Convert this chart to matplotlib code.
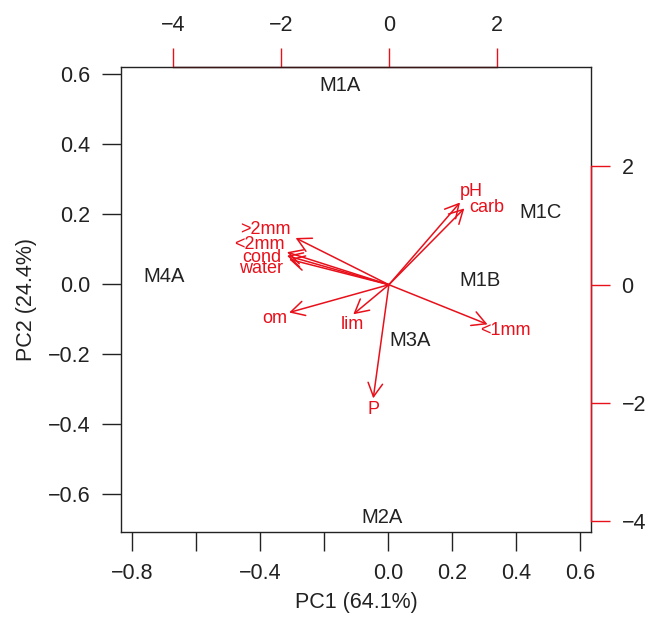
import numpy as np
import matplotlib.pyplot as plt

plt.rcParams['font.family'] = ['Liberation Sans', 'DejaVu Sans']

# site scores (PC1, PC2)
sites = ['M1A', 'M1B', 'M1C', 'M2A', 'M3A', 'M4A']
pc1 = [-0.149, 0.288, 0.475, -0.018, 0.070, -0.701]
pc2 = [0.567, 0.009, 0.205, -0.667, -0.162, 0.023]

# variable loadings (arrow tips) and label positions
variables = ['pH', 'carb', '<1mm', 'lim', 'P', '>2mm', '<2mm', 'cond', 'water', 'om']
load1 = [1.32, 1.40, 1.83, -0.66, -0.29, -1.73, -1.89, -1.89, -1.85, -1.85]
load2 = [1.39, 1.29, -0.67, -0.50, -1.92, 0.79, 0.55, 0.49, 0.43, -0.47]
lab1 = [1.53, 1.82, 2.16, -0.68, -0.29, -2.30, -2.41, -2.35, -2.37, -2.11]
lab2 = [1.58, 1.31, -0.77, -0.67, -2.11, 0.93, 0.68, 0.46, 0.28, -0.57]

red = '#e8101a'

fig = plt.figure(figsize=(6.49, 6.28), dpi=100)
pos = [121 / 649, 1 - 532 / 628, (591 - 121) / 649, (532 - 67) / 628]
ax = fig.add_axes(pos)
ax.set_xlim(-0.835, 0.634)
ax.set_ylim(-0.707, 0.619)
for s in ax.spines.values():
    s.set_linewidth(1.0)
    s.set_color('#222222')

for name, x, y in zip(sites, pc1, pc2):
    ax.text(x, y, name, ha='center', va='center', fontsize=14.5, color='#222222')

xt = np.arange(-0.8, 0.61, 0.2)
ax.set_xticks(xt)
ax.set_xticklabels(['\u22120.8', '', '\u22120.4', '', '0.0', '0.2', '0.4', '0.6'])
yt = np.arange(-0.6, 0.61, 0.2)
ax.set_yticks(yt)
ax.set_yticklabels(['\u22120.6', '\u22120.4', '\u22120.2', '0.0', '0.2', '0.4', '0.6'])
ax.tick_params(length=14, width=1.0, labelsize=15.5, pad=8, color='#222222',
               labelcolor='#222222')
ax.set_xlabel('PC1 (64.1%)', fontsize=15.5, labelpad=6, color='#222222')
ax.set_ylabel('PC2 (24.4%)', fontsize=15.5, labelpad=8, color='#222222')

# secondary axes for loadings
ax2 = fig.add_axes(pos, frameon=False)
ax2.set_xlim(-4.97, 3.75)
ax2.set_ylim(-4.18, 3.68)
ax2.xaxis.tick_top()
ax2.yaxis.tick_right()
ax2.set_xticks([-4, -2, 0, 2])
ax2.set_xticklabels(['\u22124', '\u22122', '0', '2'])
ax2.set_yticks([-4, -2, 0, 2])
ax2.set_yticklabels(['\u22124', '\u22122', '0', '2'])
ax2.tick_params(length=14, width=1.0, labelsize=15.5, pad=8, color=red,
                labelcolor='#222222')
ax2.plot([-4, 2], [3.68, 3.68], color='#3a1616', lw=1.0, clip_on=False)
ax2.plot([3.75, 3.75], [-4, 2], color=red, lw=1.0, clip_on=False)

for name, x, y, lx, ly in zip(variables, load1, load2, lab1, lab2):
    ax2.annotate('', xy=(x, y), xytext=(0, 0),
                 arrowprops=dict(arrowstyle='->,head_length=0.65,head_width=0.35',
                                 color=red, lw=1.1, mutation_scale=15,
                                 shrinkA=0, shrinkB=0))
    ax2.text(lx, ly, name, ha='center', va='center', fontsize=13, color=red)

fig.savefig('out.png', dpi=100)
